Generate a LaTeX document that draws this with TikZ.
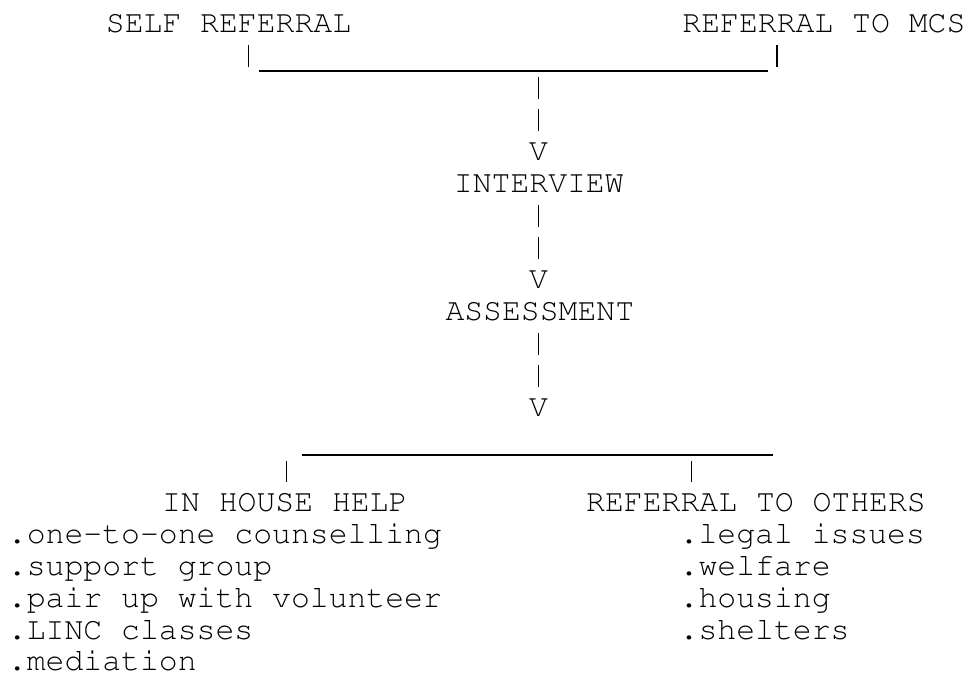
\documentclass[tikz,border=0pt]{standalone}
\usepackage[T1]{fontenc}
\usepackage{courier}

\begin{document}
\begin{tikzpicture}[x=1pt,y=-1pt,
  every node/.style={inner sep=0pt,font=\ttfamily\fontsize{31.45}{32}\selectfont},
  txt/.style={anchor=base west},
  arrowv/.style={anchor=base},
  bar/.style={line width=1.2pt},
  pipe/.style={bar,dash pattern=on 22pt off 10pt}]
\useasboundingbox (0,0) rectangle (969,675);
% sources
\node[txt] (self) at (105.7,32) {SELF REFERRAL};
\node[txt] (mcs) at (682.2,32) {REFERRAL TO MCS};
% main line
\node[arrowv] (v1) at (538.5,160) {V};
\node[txt] (interview) at (453.7,192) {INTERVIEW};
\node[arrowv] (v2) at (538.5,288) {V};
\node[txt] (assessment) at (445.3,320) {ASSESSMENT};
\node[arrowv] (v3) at (538.5,416) {V};
% outcomes
\node[txt] (inhouse) at (162,511) {IN HOUSE HELP};
\node[txt] (others) at (586,511) {REFERRAL TO OTHERS};
\node[txt] (h1) at (7.8,543) {.one-to-one counselling};
\node[txt] (h2) at (7.8,575) {.support group};
\node[txt] (h3) at (7.8,607) {.pair up with volunteer};
\node[txt] (h4) at (7.8,639) {.LINC classes};
\node[txt] (h5) at (7.8,670) {.mediation};
\node[txt] (o1) at (679.5,543) {.legal issues};
\node[txt] (o2) at (679.5,575) {.welfare};
\node[txt] (o3) at (679.5,607) {.housing};
\node[txt] (o4) at (679.5,639) {.shelters};
% junctions
\coordinate (topl) at (248.5,71);
\coordinate (topr) at (777,71);
\coordinate (topm) at (538.5,71);
\coordinate (topa) at (259.3,71);
\coordinate (topb) at (768.3,71);
\coordinate (lowl) at (286.7,455);
\coordinate (lowr) at (691.7,455);
\coordinate (lowa) at (301.7,455);
\coordinate (lowb) at (773.3,455);
\draw[bar,shorten <=13pt,shorten >=4pt] (self.base -| topl) -- (topl);
\draw[bar,shorten <=13pt,shorten >=4pt] (mcs.base -| topr) -- (topr);
\draw[bar] (topa) -- (topb);
\draw[pipe,shorten <=6pt,shorten >=11pt] (topm) -- (v1.north);
\draw[pipe,shorten <=13pt,shorten >=11pt] (interview.base -| v2) -- (v2.north);
\draw[pipe,shorten <=13pt,shorten >=11pt] (assessment.base -| v3) -- (v3.north);
\draw[bar] (lowa) -- (lowb);
\draw[bar,shorten <=6pt,shorten >=10pt] (lowl) -- (lowl |- inhouse.north);
\draw[bar,shorten <=6pt,shorten >=10pt] (lowr) -- (lowr |- others.north);
\end{tikzpicture}
\end{document}
